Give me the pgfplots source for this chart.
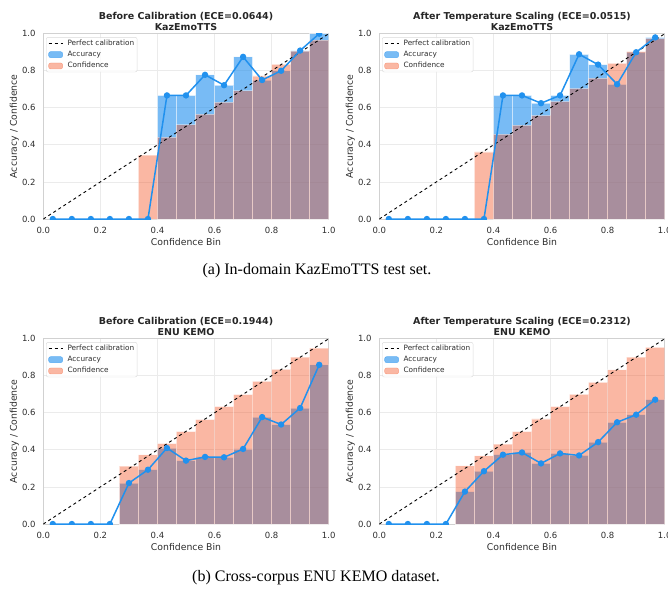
\documentclass[border=0pt]{standalone}
\usepackage{pgfplots}
\pgfplotsset{compat=1.18}
\usepackage{fontspec}
\setmainfont{DejaVu Sans}
\newfontfamily\capfont{Liberation Serif}
\definecolor{accfill}{RGB}{30,142,238}
\definecolor{conffill}{RGB}{243,75,25}
\definecolor{accline}{RGB}{33,145,238}
\definecolor{txt}{RGB}{45,45,45}

\pgfplotsset{
  relplot/.style={
    scale only axis, width=285.4pt, height=185.3pt,
    xmin=0, xmax=1, ymin=0, ymax=1,
    xtick={0,0.2,0.4,0.6,0.8,1}, xticklabels={0.0,0.2,0.4,0.6,0.8,1.0},
    ytick={0,0.2,0.4,0.6,0.8,1}, yticklabels={0.0,0.2,0.4,0.6,0.8,1.0},
    tick label style={font=\fontsize{8.5}{10}\selectfont, text=txt},
    xticklabel style={anchor=north, inner sep=0pt, yshift=-7.8pt},
    yticklabel style={anchor=east, inner sep=0pt, xshift=-7.5pt},
    major tick length=0pt,
    grid=major, major grid style={black!8, line width=0.8pt},
    axis line style={black!18, line width=1pt},
    xlabel={Confidence Bin}, ylabel={Accuracy / Confidence},
    label style={font=\fontsize{9.3}{11}\selectfont, text=txt},
    xlabel style={at={(axis description cs:0.5,-0.124)}, anchor=center},
    ylabel style={at={(axis description cs:-0.1016,0.5)}, anchor=center},
    title style={font=\bfseries\fontsize{9.5}{10.5}\selectfont, align=center, text=black!85,
      at={(axis description cs:0.5,1)}, anchor=south, inner sep=0pt, yshift=-3pt},
    clip marker paths=true,
    legend cell align=left,
    legend style={at={(axis description cs:0,1)}, anchor=north west, xshift=2.7pt, yshift=-3.4pt,
      draw=black!15, rounded corners=2pt, fill=white, fill opacity=0.8, text opacity=1,
      font=\fontsize{7.3}{8.5}\selectfont, text=txt, inner xsep=2pt, inner ysep=1.5pt,
      nodes={inner sep=1pt, text height=5.5pt, text depth=1.6pt}, row sep=2.2pt, column sep=3.5pt},
  },
  accbar/.style={ybar, bar width=0.0667, bar shift=0pt, fill=accfill, draw=white, line width=0.8pt, opacity=0.6, forget plot},
  confbar/.style={ybar, bar width=0.0667, bar shift=0pt, fill=conffill, draw=white, line width=0.8pt, opacity=0.4, forget plot},
  diag/.style={black, dashed, line width=0.9pt, forget plot},
  accl/.style={accline, line width=1.5pt, mark=*, mark size=2.4pt, mark options={solid, fill=accline, draw=accline}, forget plot},
}
\newcommand{\mylegend}{%
  \addlegendimage{legend image code/.code={\draw[black,dashed,line width=0.9pt] (0pt,0pt) -- (14pt,0pt);}}
  \addlegendentry{Perfect calibration}
  \addlegendimage{legend image code/.code={\fill[accfill, opacity=0.6] (0pt,-3pt) rectangle (14pt,3pt);}}
  \addlegendentry{Accuracy}
  \addlegendimage{legend image code/.code={\fill[conffill, opacity=0.4] (0pt,-3pt) rectangle (14pt,3pt);}}
  \addlegendentry{Confidence}
}

\begin{document}
\begin{tikzpicture}
\path[use as bounding box] (0pt,0pt) rectangle (668pt,-592pt);

% ---------- (a) left
\begin{axis}[relplot, at={(43.3pt,-219pt)}, anchor=south west,
  title={Before Calibration (ECE=0.0644)\\KazEmoTTS}]
\addplot[accbar] coordinates {(0.4333,0.667)(0.5,0.667)(0.5667,0.778)(0.6333,0.722)(0.7,0.875)(0.7667,0.75)(0.8333,0.80)(0.9,0.909)(0.9667,1.0)};
\addplot[confbar] coordinates {(0.3667,0.345)(0.4333,0.44)(0.5,0.508)(0.5667,0.565)(0.6333,0.63)(0.7,0.692)(0.7667,0.772)(0.8333,0.835)(0.9,0.906)(0.9667,0.966)};
\addplot[diag] coordinates {(0,0)(1,1)};
\addplot[accl] coordinates {(0.0333,0)(0.1,0)(0.1667,0)(0.2333,0)(0.3,0)(0.3667,0)(0.4333,0.667)(0.5,0.667)(0.5667,0.778)(0.6333,0.722)(0.7,0.875)(0.7667,0.75)(0.8333,0.80)(0.9,0.909)(0.9667,1.0)};
\mylegend
\end{axis}

% ---------- (a) right
\begin{axis}[relplot, at={(379.3pt,-219pt)}, anchor=south west,
  title={After Temperature Scaling (ECE=0.0515)\\KazEmoTTS}]
\addplot[accbar] coordinates {(0.4333,0.667)(0.5,0.667)(0.5667,0.625)(0.6333,0.667)(0.7,0.889)(0.7667,0.833)(0.8333,0.727)(0.9,0.9)(0.9667,0.98)};
\addplot[confbar] coordinates {(0.3667,0.362)(0.4333,0.457)(0.5,0.505)(0.5667,0.558)(0.6333,0.633)(0.7,0.703)(0.7667,0.759)(0.8333,0.84)(0.9,0.903)(0.9667,0.973)};
\addplot[diag] coordinates {(0,0)(1,1)};
\addplot[accl] coordinates {(0.0333,0)(0.1,0)(0.1667,0)(0.2333,0)(0.3,0)(0.3667,0)(0.4333,0.667)(0.5,0.667)(0.5667,0.625)(0.6333,0.667)(0.7,0.889)(0.7667,0.833)(0.8333,0.727)(0.9,0.9)(0.9667,0.98)};
\mylegend
\end{axis}

% ---------- (b) left
\begin{axis}[relplot, at={(43.3pt,-524pt)}, anchor=south west,
  title={Before Calibration (ECE=0.1944)\\ENU KEMO}]
\addplot[accbar] coordinates {(0.3,0.221)(0.3667,0.293)(0.4333,0.41)(0.5,0.342)(0.5667,0.362)(0.6333,0.36)(0.7,0.405)(0.7667,0.577)(0.8333,0.537)(0.9,0.626)(0.9667,0.859)};
\addplot[confbar] coordinates {(0.3,0.313)(0.3667,0.373)(0.4333,0.434)(0.5,0.499)(0.5667,0.564)(0.6333,0.633)(0.7,0.698)(0.7667,0.77)(0.8333,0.835)(0.9,0.9)(0.9667,0.949)};
\addplot[diag] coordinates {(0,0)(1,1)};
\addplot[accl] coordinates {(0.0333,0)(0.1,0)(0.1667,0)(0.2333,0)(0.3,0.221)(0.3667,0.293)(0.4333,0.41)(0.5,0.342)(0.5667,0.362)(0.6333,0.36)(0.7,0.405)(0.7667,0.577)(0.8333,0.537)(0.9,0.626)(0.9667,0.859)};
\mylegend
\end{axis}

% ---------- (b) right
\begin{axis}[relplot, at={(379.3pt,-524pt)}, anchor=south west,
  title={After Temperature Scaling (ECE=0.2312)\\ENU KEMO}]
\addplot[accbar] coordinates {(0.3,0.175)(0.3667,0.285)(0.4333,0.374)(0.5,0.386)(0.5667,0.327)(0.6333,0.381)(0.7,0.37)(0.7667,0.442)(0.8333,0.549)(0.9,0.59)(0.9667,0.671)};
\addplot[confbar] coordinates {(0.3,0.314)(0.3667,0.368)(0.4333,0.431)(0.5,0.498)(0.5667,0.567)(0.6333,0.634)(0.7,0.699)(0.7667,0.765)(0.8333,0.832)(0.9,0.9)(0.9667,0.953)};
\addplot[diag] coordinates {(0,0)(1,1)};
\addplot[accl] coordinates {(0.0333,0)(0.1,0)(0.1667,0)(0.2333,0)(0.3,0.175)(0.3667,0.285)(0.4333,0.374)(0.5,0.386)(0.5667,0.327)(0.6333,0.381)(0.7,0.37)(0.7667,0.442)(0.8333,0.549)(0.9,0.59)(0.9667,0.671)};
\mylegend
\end{axis}

\node[font=\capfont\fontsize{16}{18}\selectfont, inner sep=0pt] at (317pt,-271pt) {(a) In-domain KazEmoTTS test set.};
\node[font=\capfont\fontsize{16}{18}\selectfont, inner sep=0pt] at (316pt,-577.5pt) {(b) Cross-corpus ENU KEMO dataset.};
\end{tikzpicture}
\end{document}
